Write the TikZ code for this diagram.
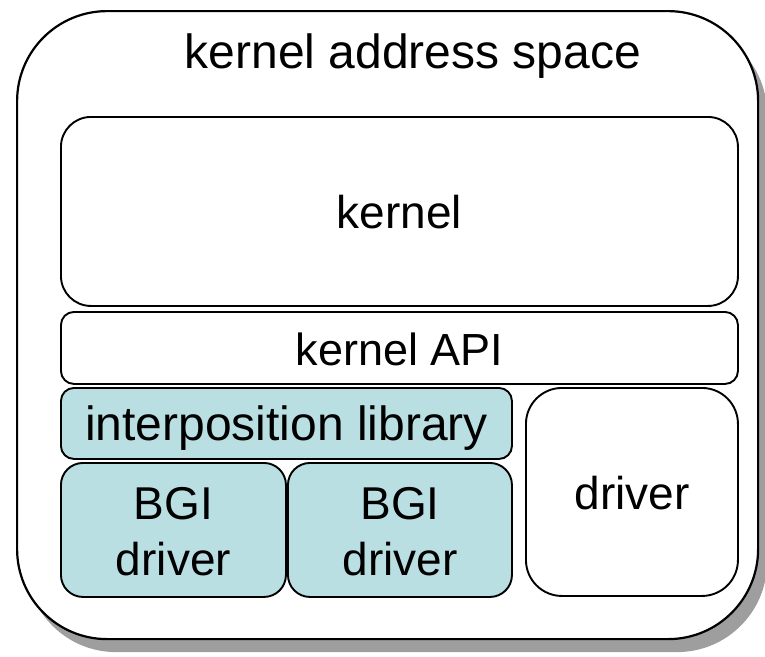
\documentclass[tikz,border=0pt]{standalone}
\usepackage{fontspec}
\setmainfont{Liberation Sans}
\usepackage{tikz}
\usetikzlibrary{positioning,shadows}

\definecolor{bgiblue}{RGB}{185,223,227}
\tikzset{
	layer/.style={draw=black,line width=1.9pt,inner sep=0pt,anchor=north west,align=center,
		text height=35pt,text depth=0pt,font=\fontsize{46}{56}\selectfont},
	bgi/.style={layer,fill=bgiblue},
}

\begin{document}
\begin{tikzpicture}[x=1pt,y=-1pt]
		\useasboundingbox (0,0) rectangle (765,656);
		% the whole address space, with its shadow
		\node[draw=black,line width=2.2pt,fill=white,rounded corners=90pt,minimum width=741pt,minimum height=628pt,anchor=north west,
			drop shadow={shadow xshift=9pt,shadow yshift=-13pt,fill=black!38,opacity=1}] (space) at (16,10) {};
		\node[font=\fontsize{48}{58}\selectfont,anchor=base] (title) at (413,68) {kernel address space};
		
		\node[layer,rounded corners=30pt,minimum width=677pt,minimum height=189pt] (kern) at (60,116) {kernel};
		\node[layer,rounded corners=13pt,minimum width=677pt,minimum height=72pt,font=\fontsize{45}{56}\selectfont] (api) at (60,311) {kernel API};
		\node[bgi,rounded corners=13pt,minimum width=451pt,minimum height=71pt,font=\fontsize{48}{56}\selectfont] (interp) at (60,387) {interposition library};
		% two lines: baseline of the box is the lower line
		\node[bgi,rounded corners=22pt,minimum width=225pt,minimum height=134pt,text height=91pt] (bgia) at (60,462) {BGI\\driver};
		\node[bgi,rounded corners=22pt,minimum width=224pt,minimum height=134pt,text height=91pt] (bgib) at (287,462) {BGI\\driver};
		\node[layer,rounded corners=36pt,minimum width=212pt,minimum height=208pt] (drv) at (525,387) {driver};
	\end{tikzpicture}
\end{document}
